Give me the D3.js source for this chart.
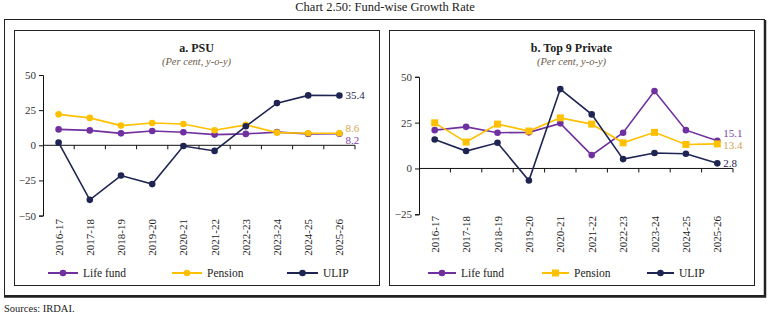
<!DOCTYPE html>
<html>
<head>
<meta charset="utf-8">
<script src="https://cdn.jsdelivr.net/npm/d3@7"></script>
<style>
  body { margin: 0; background: #fff; }
  svg { display: block; font-family: 'Liberation Serif', 'DejaVu Serif', serif; }
</style>
</head>
<body>
<svg id="chart" width="770" height="317"></svg>
<script>
const years = ['2016-17', '2017-18', '2018-19', '2019-20', '2020-21', '2021-22', '2022-23', '2023-24', '2024-25', '2025-26'];

// a. PSU
const psuLife = [11.3, 10.6, 8.5, 10.2, 9.3, 7.6, 8.1, 9.4, 8.1, 8.2];
const psuPension = [22.0, 19.5, 14.0, 15.9, 15.2, 10.7, 14.5, 9.0, 8.6, 8.6];
const psuUlip = [1.9, -38.8, -21.5, -27.6, -0.5, -4.0, 13.5, 30.0, 35.5, 35.4];
const psuTicks = [-50, -25, 0, 25, 50];

// b. Top 9 Private
const pvtLife = [20.9, 22.7, 19.5, 19.7, 24.6, 7.3, 19.5, 42.2, 20.9, 15.1];
const pvtPension = [24.9, 14.4, 24.2, 20.4, 27.6, 24.2, 14.0, 19.7, 13.1, 13.4];
const pvtUlip = [15.8, 9.5, 14.0, -6.6, 43.3, 29.5, 5.1, 8.4, 8.0, 2.8];
const pvtTicks = [-25, 0, 25, 50];

const COLORS = { life: '#7030a0', pension: '#ffc000', ulip: '#1f2553' };
const LABEL_COLORS = { life: '#7a3fa8', pension: '#d4a352', ulip: '#1f2553' };

const svg = d3.select('#chart');

// title + source
svg.append('text').attr('x', 385).attr('y', 11).attr('text-anchor', 'middle')
  .style('font-size', '12.5px').style('fill', '#222').text('Chart 2.50: Fund-wise Growth Rate');
svg.append('text').attr('x', 4).attr('y', 312)
  .style('font-size', '10.5px').style('fill', '#222').text('Sources: IRDAI.');

// outer frame with heavier right/bottom edge
svg.append('rect').attr('x', 4.5).attr('y', 19.5).attr('width', 760).attr('height', 276)
  .attr('fill', 'none').attr('stroke', '#222').attr('stroke-width', 1);
svg.append('path').attr('d', 'M765,20 V296.5 H4').attr('fill', 'none')
  .attr('stroke', '#222').attr('stroke-width', 2.5);

function drawPanel(cfg) {
  const g = svg.append('g');
  g.append('rect').attr('x', cfg.box[0] + 0.5).attr('y', cfg.box[1] + 0.5)
    .attr('width', cfg.box[2]).attr('height', cfg.box[3])
    .attr('fill', '#fff').attr('stroke', '#222').attr('stroke-width', 1);

  const cx = cfg.box[0] + cfg.box[2] / 2;
  g.append('text').attr('x', cx).attr('y', 52).attr('text-anchor', 'middle')
    .style('font-size', '12px').style('font-weight', 'bold').style('fill', '#222').text(cfg.title);
  g.append('text').attr('x', cx).attr('y', 65).attr('text-anchor', 'middle')
    .style('font-size', '10.5px').style('font-style', 'italic').style('fill', '#6b5a4a')
    .text('(Per cent, y-o-y)');

  const x = d3.scaleBand().domain(years).range(cfg.xRange);
  const y = d3.scaleLinear().domain(cfg.yDomain).range(cfg.yRange);

  // y axis
  const yAxis = g.append('g').attr('transform', `translate(${cfg.xRange[0]},0)`)
    .call(d3.axisLeft(y).tickValues(cfg.ticks).tickSize(4).tickPadding(3));
  yAxis.select('.domain').attr('stroke', '#111');
  yAxis.selectAll('.tick line').attr('stroke', '#111');
  yAxis.selectAll('text').style('font-size', '11px').style('fill', '#333')
    .style('font-family', "'Liberation Serif', serif");

  // x axis along zero line, ticks at band boundaries
  const zeroY = y(0);
  g.append('line').attr('x1', cfg.xRange[0]).attr('x2', cfg.xRange[1])
    .attr('y1', zeroY).attr('y2', zeroY).attr('stroke', '#111');
  years.forEach(yr => {
    const bx = x(yr) + x.bandwidth();
    g.append('line').attr('x1', bx).attr('x2', bx).attr('y1', zeroY).attr('y2', zeroY + 4)
      .attr('stroke', '#111');
  });

  // x labels rotated at the bottom
  g.selectAll('.xlab').data(years).join('text')
    .attr('class', 'xlab')
    .attr('transform', d => `translate(${x(d) + x.bandwidth() / 2 + 4},${cfg.labelTop}) rotate(-90)`)
    .attr('text-anchor', 'end')
    .style('font-size', '11px').style('fill', '#222')
    .text(d => d);

  const line = d3.line().x((d, i) => x(years[i]) + x.bandwidth() / 2).y(d => y(d));

  cfg.series.forEach(s => {
    g.append('path').datum(s.values).attr('d', line)
      .attr('fill', 'none').attr('stroke', COLORS[s.key]).attr('stroke-width', 1.6);
    const pts = g.selectAll(null).data(s.values);
    if (s.square) {
      pts.join('rect')
        .attr('x', (d, i) => x(years[i]) + x.bandwidth() / 2 - 3.5)
        .attr('y', d => y(d) - 3.5)
        .attr('width', 7).attr('height', 7).attr('fill', COLORS[s.key]);
    } else {
      pts.join('circle')
        .attr('cx', (d, i) => x(years[i]) + x.bandwidth() / 2)
        .attr('cy', d => y(d)).attr('r', 3.3).attr('fill', COLORS[s.key]);
    }
  });

  // end labels
  cfg.endLabels.forEach(l => {
    g.append('text').attr('x', x(years[9]) + x.bandwidth() / 2 + l.dx)
      .attr('y', y(l.value) + l.dy).attr('dy', '0.35em')
      .style('font-size', '11px').style('fill', LABEL_COLORS[l.key])
      .text(l.value.toFixed(1));
  });

  // legend
  cfg.legend.forEach(l => {
    const lg = g.append('g').attr('transform', `translate(${l.x},273)`);
    lg.append('line').attr('x1', 0).attr('x2', l.w).attr('stroke', COLORS[l.key]).attr('stroke-width', 2);
    if (l.square) {
      lg.append('rect').attr('x', l.w / 2 - 3.5).attr('y', -3.5).attr('width', 7).attr('height', 7)
        .attr('fill', COLORS[l.key]);
    } else {
      lg.append('circle').attr('cx', l.w / 2).attr('r', 3.3).attr('fill', COLORS[l.key]);
    }
    lg.append('text').attr('x', l.w + 5).attr('dy', '0.35em')
      .style('font-size', '11.5px').style('fill', '#222').text(l.label);
  });
}

drawPanel({
  box: [14, 30, 365, 255],
  title: 'a. PSU',
  xRange: [43, 355],
  yDomain: [-50, 50],
  yRange: [215.6, 75],
  ticks: psuTicks,
  labelTop: 219,
  series: [
    { key: 'life', values: psuLife },
    { key: 'pension', values: psuPension },
    { key: 'ulip', values: psuUlip }
  ],
  endLabels: [
    { key: 'ulip', value: psuUlip[9], dx: 6, dy: 0 },
    { key: 'pension', value: psuPension[9], dx: 6, dy: -5.5 },
    { key: 'life', value: psuLife[9], dx: 6, dy: 6 }
  ],
  legend: [
    { key: 'life', label: 'Life fund', x: 48, w: 30 },
    { key: 'pension', label: 'Pension', x: 172, w: 30 },
    { key: 'ulip', label: 'ULIP', x: 287, w: 31 }
  ]
});

drawPanel({
  box: [389, 30, 365, 255],
  title: 'b. Top 9 Private',
  xRange: [419, 733],
  yDomain: [-25, 50],
  yRange: [214.3, 76.8],
  ticks: pvtTicks,
  labelTop: 216,
  series: [
    { key: 'life', values: pvtLife },
    { key: 'pension', values: pvtPension, square: true },
    { key: 'ulip', values: pvtUlip }
  ],
  endLabels: [
    { key: 'life', value: pvtLife[9], dx: 6, dy: -7.5 },
    { key: 'pension', value: pvtPension[9], dx: 6, dy: 1.5 },
    { key: 'ulip', value: pvtUlip[9], dx: 6, dy: 0 }
  ],
  legend: [
    { key: 'life', label: 'Life fund', x: 428, w: 28 },
    { key: 'pension', label: 'Pension', x: 542, w: 27, square: true },
    { key: 'ulip', label: 'ULIP', x: 647, w: 27 }
  ]
});
</script>
</body>
</html>
